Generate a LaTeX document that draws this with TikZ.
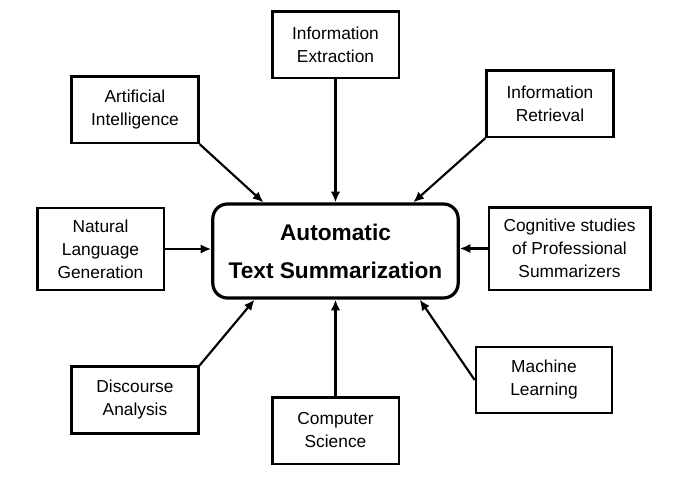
\documentclass[tikz,border=0pt]{standalone}
\usepackage{fontspec}
\setmainfont{Liberation Sans}
\usetikzlibrary{arrows.meta}

\tikzset{
  topic/.style={draw,line width=2pt,inner sep=0pt,align=center,
    font=\fontsize{13}{17.25}\selectfont},
  mainbox/.style={draw,line width=2.4pt,rounded corners=11pt,inner sep=0pt,
    align=center,font=\fontsize{17}{28.5}\selectfont\bfseries,
    minimum width=184pt,minimum height=70.5pt},
  feed/.style={-{Latex[length=8pt,width=7pt]},line width=1.6pt}
}

\begin{document}
\begin{tikzpicture}[x=0.75pt,y=-0.75pt]
\useasboundingbox (0,0) rectangle (686,482);

\node[mainbox] (main) at (335.5,251) {Automatic\\Text Summarization};

\node[topic,minimum width=95pt,minimum height=50pt] (ie) at (335.5,44.5) {Information\\Extraction};
\node[topic,minimum width=95pt,minimum height=50pt] (ai) at (135,109.5) {Artificial\\Intelligence};
\node[topic,minimum width=95pt,minimum height=50pt] (ir) at (550,103.5) {Information\\Retrieval};
\node[topic,minimum width=95pt,minimum height=61.5pt] (nlg) at (100.5,249) {Natural\\Language\\Generation};
\node[topic,minimum width=121pt,minimum height=62pt] (cog) at (569.5,248.5) {Cognitive studies\\of Professional\\Summarizers};
\node[topic,minimum width=95pt,minimum height=50pt] (da) at (135,400) {Discourse\\Analysis};
\node[topic,minimum width=95pt,minimum height=50pt] (cs) at (335.5,430.5) {Computer\\Science};
\node[topic,minimum width=102pt,minimum height=49.5pt] (ml) at (544,380) {Machine\\Learning};

% arrows into the main box
\draw[feed] (ie.south) -- (ie.south |- main.north);
\draw[feed] (ai.south east) -- (main.146);
\draw[feed] (ir.south west) -- (main.32);
\draw[feed] (nlg.east) -- (nlg.east -| main.west);
\draw[feed] (cog.west) -- (cog.west -| main.east);
\draw[feed] (da.north east) -- (main.211);
\draw[feed] (cs.north) -- (cs.north |- main.south);
\draw[feed] (ml.west) -- (main.330);
\end{tikzpicture}
\end{document}
